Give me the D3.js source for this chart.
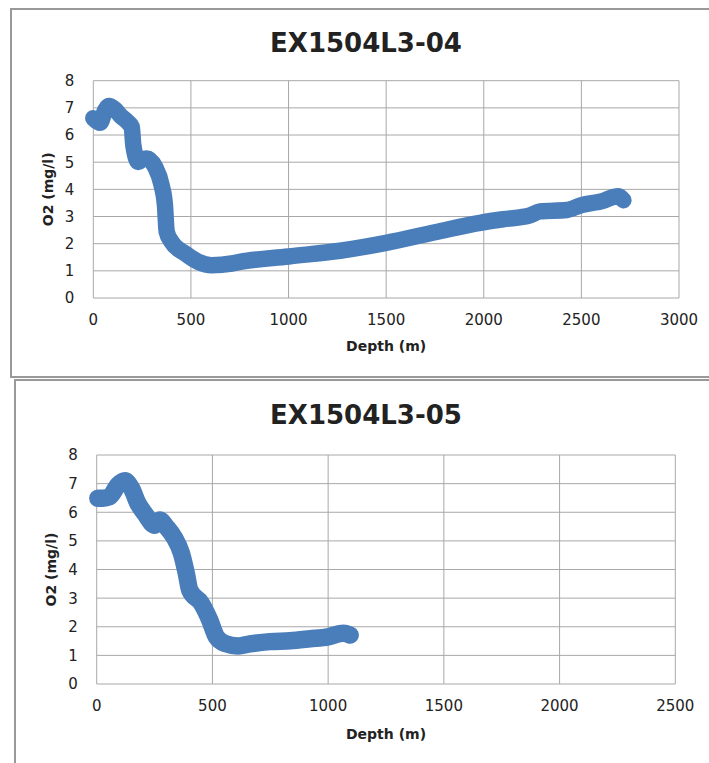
<!DOCTYPE html>
<html>
<head>
<meta charset="utf-8">
<script src="https://cdn.jsdelivr.net/npm/d3@7"></script>
<style>
  body { margin: 0; background: #fff; }
  text { font-family: "DejaVu Sans", sans-serif; fill: #222; }
</style>
</head>
<body>
<div id="chart"></div>
<script>
// cast 04
const depth04 = [0, 35, 60, 80, 110, 137, 180, 197, 205, 231, 250, 273, 316, 350, 367, 376, 401, 470, 538, 606, 709, 751, 1000, 1264, 1500, 1750, 1981, 2100, 2237, 2288, 2425, 2500, 2613, 2664, 2690, 2715]
const o2_04 = [6.62, 6.45, 6.9, 7.07, 6.95, 6.73, 6.45, 6.3, 5.62, 5.01, 5.1, 5.14, 4.83, 4.15, 3.42, 2.44, 2.07, 1.64, 1.33, 1.21, 1.27, 1.33, 1.53, 1.74, 2.03, 2.42, 2.77, 2.9, 3.04, 3.19, 3.24, 3.42, 3.58, 3.72, 3.75, 3.6]

// cast 05
const depth05 = [5, 27, 56, 92, 121, 150, 178, 207, 251, 272, 301, 337, 366, 387, 402, 452, 488, 517, 553, 611, 662, 749, 835, 922, 1000, 1066, 1095]
const o2_05 = [6.49, 6.49, 6.54, 6.95, 7.1, 6.84, 6.31, 5.96, 5.55, 5.73, 5.49, 5.09, 4.57, 3.87, 3.28, 2.82, 2.24, 1.65, 1.42, 1.33, 1.40, 1.48, 1.51, 1.58, 1.65, 1.77, 1.71]

const xTicks04 = [0, 500, 1000, 1500, 2000, 2500, 3000]
const xTicks05 = [0, 500, 1000, 1500, 2000, 2500]
const yTicks = [0, 1, 2, 3, 4, 5, 6, 7, 8]

const W = 709, H = 763
const blue = '#4a7ebb'

let svg = d3.select('#chart').append('svg')
            .attr('width', W)
            .attr('height', H)

function drawPanel(cfg) {
  // outer chart border
  svg.append('rect')
     .attr('x', cfg.box[0]).attr('y', cfg.box[1])
     .attr('width', cfg.box[2]).attr('height', cfg.box[3])
     .attr('fill', 'none')
     .attr('stroke', '#999')
     .attr('stroke-width', 2)

  let x = d3.scaleLinear().domain([0, d3.max(cfg.xTicks)]).range([cfg.left, cfg.right])
  let y = d3.scaleLinear().domain([0, 8]).range([cfg.bottom, cfg.top])

  let g = svg.append('g')

  // gridlines
  g.selectAll('.hgrid').data(yTicks).enter().append('line')
   .attr('x1', cfg.left).attr('x2', cfg.right)
   .attr('y1', d => y(d)).attr('y2', d => y(d))
   .attr('stroke', '#a8a8a8').attr('stroke-width', 1)

  g.selectAll('.vgrid').data(cfg.xTicks).enter().append('line')
   .attr('x1', d => x(d)).attr('x2', d => x(d))
   .attr('y1', cfg.top).attr('y2', cfg.bottom)
   .attr('stroke', '#a8a8a8').attr('stroke-width', 1)

  // tick labels
  g.selectAll('.ylab').data(yTicks).enter().append('text')
   .attr('x', cfg.left - 19)
   .attr('y', d => y(d))
   .attr('dy', '0.36em')
   .attr('text-anchor', 'end')
   .attr('font-size', 15)
   .text(d => d)

  g.selectAll('.xlab').data(cfg.xTicks).enter().append('text')
   .attr('x', d => x(d))
   .attr('y', cfg.bottom + 22)
   .attr('dy', '0.36em')
   .attr('text-anchor', 'middle')
   .attr('font-size', 15)
   .text(d => d)

  // the O2 profile, drawn fat like the excel markers
  let pts = cfg.depth.map((d, i) => [d, cfg.o2[i]])
  let line = d3.line()
               .x(d => x(d[0]))
               .y(d => y(d[1]))
               .curve(d3.curveMonotoneX)

  g.append('path')
   .attr('d', line(pts))
   .attr('fill', 'none')
   .attr('stroke', blue)
   .attr('stroke-width', cfg.thick)
   .attr('stroke-linecap', 'round')
   .attr('stroke-linejoin', 'round')

  // titles
  svg.append('text')
     .attr('x', cfg.titleX).attr('y', cfg.titleY)
     .attr('text-anchor', 'middle')
     .attr('font-size', 26)
     .attr('font-weight', 'bold')
     .text(cfg.title)

  svg.append('text')
     .attr('x', (cfg.left + cfg.right) / 2)
     .attr('y', cfg.bottom + cfg.xTitleOff)
     .attr('dy', '0.36em')
     .attr('text-anchor', 'middle')
     .attr('font-size', 14)
     .attr('font-weight', 'bold')
     .text('Depth (m)')

  svg.append('text')
     .attr('transform', `translate(${cfg.yTitleX},${(cfg.top + cfg.bottom) / 2}) rotate(-90)`)
     .attr('dy', '0.36em')
     .attr('text-anchor', 'middle')
     .attr('font-size', 14)
     .attr('font-weight', 'bold')
     .text('O2 (mg/l)')
}

drawPanel({
  box: [11, 9, 720, 368],
  left: 93.3, right: 679, top: 80.7, bottom: 298,
  xTicks: xTicks04, depth: depth04, o2: o2_04,
  thick: 16.5, title: 'EX1504L3-04', titleX: 366, titleY: 52,
  xTitleOff: 48, yTitleX: 47.5
})

drawPanel({
  box: [15, 380, 720, 400],
  left: 96.7, right: 675.3, top: 455, bottom: 684,
  xTicks: xTicks05, depth: depth05, o2: o2_05,
  thick: 17.5, title: 'EX1504L3-05', titleX: 366, titleY: 424,
  xTitleOff: 50, yTitleX: 51
})
</script>
</body>
</html>
